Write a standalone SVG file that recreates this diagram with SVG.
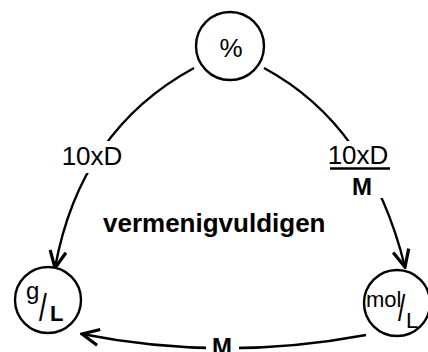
<svg xmlns="http://www.w3.org/2000/svg" width="428" height="352" viewBox="0 0 428 352">
<style>
.node circle{fill:#fff;stroke:#000;stroke-width:2.4}
.edge{fill:none;stroke:#000;stroke-width:2.4}
text{font-family:"Liberation Sans",Arial,sans-serif;fill:#000}
.lbl{text-anchor:middle}
.bg{fill:#fff}
</style>
<defs>
<marker id="arr" markerUnits="userSpaceOnUse" viewBox="0 0 20 20" refX="18" refY="10" markerWidth="20" markerHeight="20" orient="auto">
<path d="M1,2 L18,10 L1,18" fill="none" stroke="#000" stroke-width="3.2"/>
</marker>
</defs>
<rect width="428" height="352" fill="#fff"/>
<g id="connectors">
<path class="edge" d="M194,68 Q80,130 55,268" marker-end="url(#arr)"/>
<path class="edge" d="M264,68 Q370,125 405,267" marker-end="url(#arr)"/>
<path class="edge" d="M366,335 Q222,362 82,334" marker-end="url(#arr)"/>
<rect class="bg" x="60" y="141" width="66" height="32"/>
<text class="lbl" x="92" y="165" font-size="26">10xD</text>
<rect class="bg" x="322" y="141" width="72" height="57"/>
<text class="lbl" x="358" y="164" font-size="26">10xD</text>
<line x1="330" y1="168.5" x2="390" y2="168.5" stroke="#000" stroke-width="2.5"/>
<text class="lbl" x="362" y="195" font-size="24" font-weight="bold">M</text>
<rect class="bg" x="206" y="337" width="33" height="15"/>
<text class="lbl" x="222" y="355" font-size="24" font-weight="bold">M</text>
</g>
<g id="node-percent" class="node">
<circle cx="230" cy="46" r="34"/>
<text x="231" y="57" font-size="26" text-anchor="middle">%</text>
</g>
<g id="node-gL" class="node">
<circle cx="48" cy="300" r="33"/>
<text x="26" y="299" font-size="24">g</text>
<text transform="translate(39,321) scale(1,1.4)" font-size="28">/</text>
<text x="50" y="321" font-size="22" font-weight="bold">L</text>
</g>
<g id="node-molL" class="node">
<circle cx="397" cy="303" r="33"/>
<text x="366" y="307" font-size="22">mol</text>
<text transform="translate(398,321) scale(1,1.4)" font-size="26">/</text>
<text x="406" y="328" font-size="22">L</text>
</g>
<text x="103" y="232" font-size="26" font-weight="bold">vermenigvuldigen</text>
</svg>
